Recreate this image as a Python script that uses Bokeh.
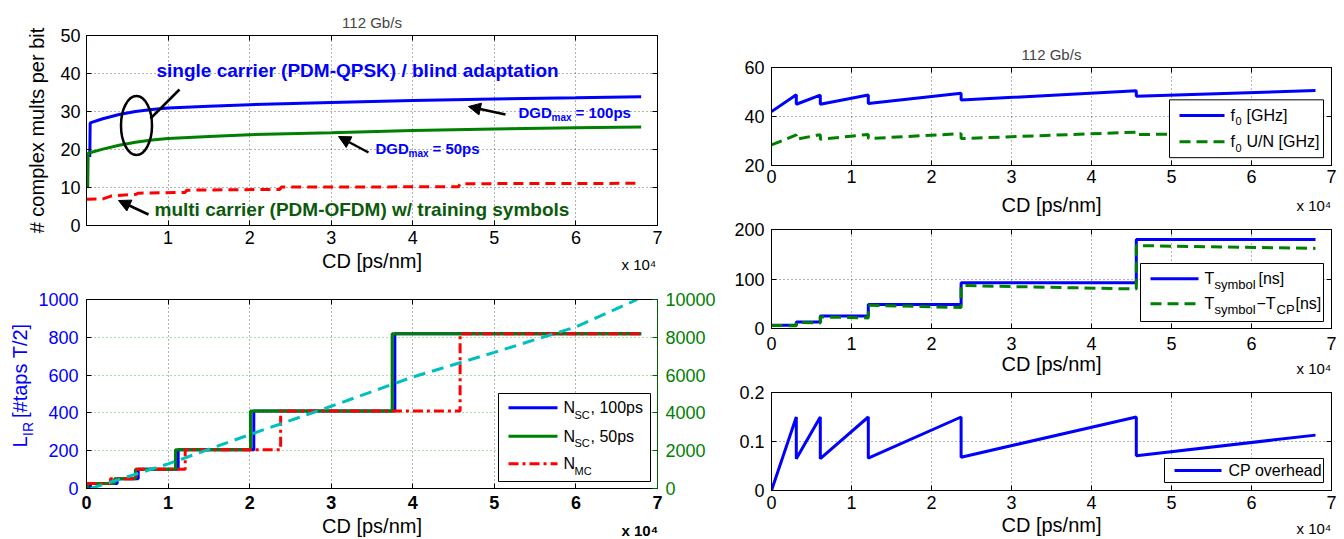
import math
from bokeh.plotting import figure
from bokeh.models import (Range1d, LinearAxis, FixedTicker, CustomJSTickFormatter,
                          Label, Arrow, NormalHead, BoxAnnotation)
from bokeh.core.properties import value
from bokeh.layouts import row, column
from bokeh.embed import file_html
from bokeh.resources import INLINE

FONT = "Liberation Sans"
BLUE = "#0000ff"
GREEN = "#008000"
RED = "#ff0000"
CYAN = "#00bfbf"
DKGREEN = "#0b5a0b"

# ---------------- data (CD in ps/nm) ----------------
# panel 1: complex multiplications per bit
sc100_cd = [400, 450, 2000, 4000, 6000, 8000, 10000, 15000, 20000, 30000, 40000, 50000, 60000, 68000]
sc100_mults = [18, 27, 28.1, 29.2, 30.0, 30.5, 30.9, 31.4, 31.8, 32.4, 32.9, 33.3, 33.6, 33.9]
sc50_cd = [150, 200, 2000, 4000, 6000, 8000, 10000, 15000, 20000, 30000, 40000, 50000, 60000, 68000]
sc50_mults = [10, 19, 20.1, 21.1, 21.9, 22.5, 22.9, 23.4, 23.9, 24.4, 25.0, 25.4, 25.7, 25.9]
mc_cd = [0, 2000, 3100, 6100, 6300, 12100, 12300, 23700, 23900, 45600, 45800, 68000]
mc_mults = [6.9, 7.0, 7.8, 8.2, 8.5, 8.7, 9.3, 9.5, 10.1, 10.2, 11.0, 11.1]

# panel 2: impulse response length / FFT sizes
nsc100_cd = [0, 490, 3760, 6340, 11240, 20510, 37800, 68000]
nsc100_taps = [0, 26, 51, 102, 205, 410, 819, 819]
nsc50_cd = [0, 160, 3430, 6000, 10910, 20100, 37470, 68000]
nsc50_taps = [0, 26, 51, 102, 205, 410, 819, 819]
nmc_cd = [0, 2940, 6100, 12100, 23800, 45800, 68000]
nmc_taps = [26, 51, 102, 205, 410, 819, 819]
lir_cd = [500, 10000, 20000, 30000, 40000, 50000, 60000, 67500]
lir_right = [0, 1300, 2850, 4350, 5900, 7200, 8550, 10000]

# panels 3-5: OFDM parameters
ofdm_cd = [0, 3100, 3100, 6100, 6100, 12100, 12100, 23700, 23700, 45600, 45600, 68000]
f0_ghz = [42.0, 48.9, 45.0, 48.7, 45.0, 48.8, 45.3, 49.5, 46.7, 50.5, 48.3, 50.6]
f0un_ghz = [28.4, 32.5, 30.7, 32.6, 30.7, 32.7, 31.0, 33.0, 31.0, 33.6, 32.6, 33.6]
tsym_cd = [0, 3100, 6100, 12100, 23700, 45600, 68000]
tsym_ns = [6.6, 13.2, 25.2, 48.5, 92.5, 180, 180]
tsym_cp_ns = [6.2, 5.6, 12.3, 11.1, 23.4, 21.3, 46.8, 42.5, 86.8, 79.8, 167.5, 161.8]
cp_overhead = [0, 0.15, 0.065, 0.15, 0.065, 0.15, 0.066, 0.15, 0.068, 0.15, 0.071, 0.113]

x_ticks_all = [0, 10000, 20000, 30000, 40000, 50000, 60000, 70000]
x_ticks_p1 = [10000, 20000, 30000, 40000, 50000, 60000, 70000]
XFMT = "return (tick/10000).toFixed(0);"
IFMT = "return tick.toFixed(0);"
EMPTY = "return '';"


def conv(L, R, T, B, xr, yr):
    def fx(X):
        return xr[0] + (X - L) / (R - L) * (xr[1] - xr[0])

    def fy(Y):
        return yr[0] + (B - Y) / (B - T) * (yr[1] - yr[0])
    return fx, fy


def make_fig(w, h, L, R, T, B, ox, oy, xr, yr):
    p = figure(width=w, height=h, x_range=Range1d(*xr), y_range=Range1d(*yr),
               output_backend="svg", toolbar_location=None,
               min_border_left=L - ox, min_border_right=ox + w - R,
               min_border_top=T - oy, min_border_bottom=oy + h - B)
    p.outline_line_color = "black"
    p.outline_line_width = 1
    p.outline_line_alpha = 1
    p.background_fill_color = "white"
    p.border_fill_color = "white"
    return p


def style_axis(ax, ticks, code, size="18px", color="black", bold=False, standoff=5):
    ax.ticker = FixedTicker(ticks=ticks)
    ax.formatter = CustomJSTickFormatter(code=code)
    ax.major_tick_in = 5
    ax.major_tick_out = 0
    ax.minor_tick_in = 0
    ax.minor_tick_out = 0
    ax.major_label_text_font = FONT
    ax.major_label_text_font_size = size
    ax.major_label_text_color = color
    ax.major_label_text_font_style = "bold" if bold else "normal"
    ax.major_label_standoff = standoff
    ax.axis_line_color = "black"
    ax.major_tick_line_color = "black"
    ax.axis_label_text_font = FONT
    ax.axis_label_text_font_style = "normal"
    ax.axis_label_text_font_size = "20px"
    ax.axis_label_text_color = "black"


def style_grid(p, xticks, yticks, ycolor="#000000", yalpha=0.6):
    p.xgrid.ticker = FixedTicker(ticks=xticks)
    p.ygrid.ticker = FixedTicker(ticks=yticks)
    p.xgrid.grid_line_color = "#000000"
    p.xgrid.grid_line_alpha = 0.6
    p.xgrid.grid_line_dash = "1 3"
    p.ygrid.grid_line_color = ycolor
    p.ygrid.grid_line_alpha = yalpha
    p.ygrid.grid_line_dash = "1 3"


def box_ticks(p, xticks, yticks, right=True):
    t = LinearAxis(ticker=FixedTicker(ticks=xticks), formatter=CustomJSTickFormatter(code=EMPTY),
                   major_tick_in=5, major_tick_out=0, minor_tick_in=0, minor_tick_out=0,
                   major_label_standoff=0, axis_line_color="black")
    p.add_layout(t, "above")
    if right:
        r = LinearAxis(ticker=FixedTicker(ticks=yticks), formatter=CustomJSTickFormatter(code=EMPTY),
                       major_tick_in=5, major_tick_out=0, minor_tick_in=0, minor_tick_out=0,
                       major_label_standoff=0, axis_line_color="black")
        p.add_layout(r, "right")


def txt(p, x, y, text, size, color="black", bold=False, align="left", baseline="middle", angle=0.0):
    # label inside the plotting frame
    p.add_layout(Label(x=x, y=y, text=text, text_font=FONT, text_font_size=f"{size}px",
                       text_color=color, text_font_style="bold" if bold else "normal",
                       text_align=align, text_baseline=baseline, angle=angle))


def otxt(p, x, y, text, size, color="black", bold=False, align="left", baseline="middle", angle=0.0):
    # text outside the plotting frame (annotation-level text glyph)
    p.text(x=[x], y=[y], text=[text], text_font=value(FONT), text_font_size=value(f"{size}px"),
           text_color=color, text_font_style="bold" if bold else "normal",
           text_align=align, text_baseline=baseline, angle=angle, level="annotation")


def set_title(p, text):
    p.title.text = text
    p.title.align = "center"
    p.title.text_font = FONT
    p.title.text_font_size = "15px"
    p.title.text_font_style = "normal"


def mlegend(p, fx, fy, box, entries):
    X0, Y0, X1, Y1 = box
    p.add_layout(BoxAnnotation(left=fx(X0), right=fx(X1), top=fy(Y0), bottom=fy(Y1),
                               fill_color="white", fill_alpha=1, line_color="black",
                               line_alpha=1, line_width=1))
    for (Yc, Xs, Xe, color, dash, pieces) in entries:
        p.add_layout(Arrow(start=None, end=None, x_start=fx(Xs), y_start=fy(Yc), x_end=fx(Xe),
                           y_end=fy(Yc), line_color=color, line_width=3, line_dash=dash))
        for (X, dY, t, size) in pieces:
            txt(p, fx(X), fy(Yc + dY), t, size)


# ================= Panel 1 =================
L1, R1, T1, B1 = 86, 657, 35, 225
p1 = make_fig(720, 276, L1, R1, T1, B1, 0, 0, (0, 70000), (0, 50))
fx1, fy1 = conv(L1, R1, T1, B1, (0, 70000), (0, 50))
set_title(p1, "112 Gb/s")
style_axis(p1.xaxis[0], x_ticks_p1, XFMT, standoff=5)
p1.xaxis[0].axis_label = "CD [ps/nm]"
p1.xaxis[0].axis_label_standoff = 3
style_axis(p1.yaxis[0], [0, 10, 20, 30, 40, 50], IFMT, standoff=6)
p1.yaxis[0].axis_label = "# complex mults per bit"
p1.yaxis[0].axis_label_standoff = 9
style_grid(p1, x_ticks_p1, [0, 10, 20, 30, 40, 50])
box_ticks(p1, x_ticks_p1, [0, 10, 20, 30, 40, 50])

p1.line(sc100_cd, sc100_mults, line_color=BLUE, line_width=3)
p1.line(sc50_cd, sc50_mults, line_color=GREEN, line_width=3)
p1.line(mc_cd, mc_mults, line_color=RED, line_width=3, line_dash="10 6")

txt(p1, fx1(156), fy1(70), "single carrier (PDM-QPSK) / blind adaptation", 19, BLUE, bold=True)
txt(p1, fx1(154), fy1(209), "multi carrier (PDM-OFDM) w/ training symbols", 19, DKGREEN, bold=True)
for X0, Yc, rest in [(518, 112, "= 100ps"), (375, 148, "= 50ps")]:
    txt(p1, fx1(X0), fy1(Yc), "DGD", 15, BLUE, bold=True)
    txt(p1, fx1(X0 + 33), fy1(Yc + 5), "max", 10, BLUE, bold=True)
    txt(p1, fx1(X0 + 57), fy1(Yc), rest, 15, BLUE, bold=True)
for (xs, ys, xe, ye) in [(505, 114, 468, 106), (368, 152, 338, 136), (148, 214, 118, 200)]:
    p1.add_layout(Arrow(end=NormalHead(size=12, fill_color="black", line_color="black"),
                        x_start=fx1(xs), y_start=fy1(ys), x_end=fx1(xe), y_end=fy1(ye),
                        line_color="black", line_width=2.5))
p1.ellipse(x=[fx1(136)], y=[fy1(125)], width=[fx1(167) - fx1(136)], height=[fy1(96) - fy1(155)],
           fill_alpha=0, line_color="black", line_width=2.5)
p1.segment(x0=[fx1(150)], y0=[fy1(118)], x1=[fx1(179)], y1=[fy1(89)], line_color="black", line_width=2.5)
otxt(p1, fx1(621), fy1(264), "x 10⁴", 15)

# ================= Panel 2 =================
L2, R2, T2, B2 = 86, 657, 299, 488
p2 = make_fig(720, 263, L2, R2, T2, B2, 0, 276, (0, 70000), (0, 1000))
fx2, fy2 = conv(L2, R2, T2, B2, (0, 70000), (0, 1000))
p2.extra_y_ranges = {"taps_r": Range1d(0, 10000)}
style_axis(p2.xaxis[0], x_ticks_all, XFMT, bold=True, standoff=7)
p2.xaxis[0].axis_label = "CD [ps/nm]"
p2.xaxis[0].axis_label_standoff = 3
style_axis(p2.yaxis[0], [0, 200, 400, 600, 800, 1000], IFMT, color=BLUE, standoff=8)
raxis = LinearAxis(y_range_name="taps_r")
style_axis(raxis, [0, 2000, 4000, 6000, 8000, 10000], IFMT, color=GREEN, standoff=8)
raxis.axis_line_color = "#006000"
raxis.major_tick_line_color = "#006000"
p2.add_layout(raxis, "right")
style_grid(p2, x_ticks_all, [0, 200, 400, 600, 800, 1000], ycolor="#33aa33", yalpha=0.8)
box_ticks(p2, x_ticks_all, None, right=False)

p2.step(nsc100_cd, nsc100_taps, mode="after", line_color=BLUE, line_width=3)
p2.step(nsc50_cd, nsc50_taps, mode="after", line_color=GREEN, line_width=3)
p2.step(nmc_cd, nmc_taps, mode="after", line_color=RED, line_width=3, line_dash="10 4 3 4")
p2.line(lir_cd, lir_right, y_range_name="taps_r", line_color=CYAN, line_width=3, line_dash="12 7")

mlegend(p2, fx2, fy2, (498, 393, 650, 481), [
    (407.3, 508, 557, BLUE, "solid", [(563, 0, "N", 16), (574, 7, "SC", 11), (590, 0, ", 100ps", 16)]),
    (435.7, 508, 557, GREEN, "solid", [(563, 0, "N", 16), (574, 7, "SC", 11), (590, 0, ", 50ps", 16)]),
    (463.3, 508, 557, RED, "10 4 3 4", [(563, 0, "N", 16), (574, 7, "MC", 11)]),
])
otxt(p2, fx2(19), fy2(447), "L", 20, BLUE, angle=math.pi / 2)
otxt(p2, fx2(27), fy2(435.5), "IR", 14, BLUE, angle=math.pi / 2)
otxt(p2, fx2(19), fy2(417.5), "[#taps T/2]", 20, BLUE, angle=math.pi / 2)
otxt(p2, fx2(621), fy2(530), "x 10⁴", 15, bold=True)

# ================= Panel 3 =================
L3, R3 = 771, 1331
T3, B3 = 67, 167
p3 = make_fig(624, 218, L3, R3, T3, B3, 720, 0, (0, 70000), (20, 60))
fx3, fy3 = conv(L3, R3, T3, B3, (0, 70000), (20, 60))
set_title(p3, "112 Gb/s")
style_axis(p3.xaxis[0], x_ticks_all, XFMT, standoff=4)
p3.xaxis[0].axis_label = "CD [ps/nm]"
p3.xaxis[0].axis_label_standoff = 8
style_axis(p3.yaxis[0], [20, 40, 60], IFMT, standoff=7)
style_grid(p3, x_ticks_all, [20, 40, 60])
box_ticks(p3, x_ticks_all, [20, 40, 60])
p3.line(ofdm_cd, f0_ghz, line_color=BLUE, line_width=3)
p3.line(ofdm_cd, f0un_ghz, line_color=GREEN, line_width=3, line_dash="11 6")
mlegend(p3, fx3, fy3, (1169, 100, 1323, 159), [
    (116.0, 1179, 1224, BLUE, "solid", [(1230, 0, "f", 16), (1235, 6, "0", 11), (1246, 0, "[GHz]", 16)]),
    (142.7, 1179, 1224, GREEN, "11 6", [(1230, 0, "f", 16), (1235, 6, "0", 11), (1246, 0, "U/N [GHz]", 16)]),
])
otxt(p3, fx3(1296), fy3(208), "x 10⁴", 15)

# ================= Panel 4 =================
T4, B4 = 229, 328
p4 = make_fig(624, 162, L3, R3, T4, B4, 720, 218, (0, 70000), (0, 200))
fx4, fy4 = conv(L3, R3, T4, B4, (0, 70000), (0, 200))
style_axis(p4.xaxis[0], x_ticks_all, XFMT, standoff=8)
p4.xaxis[0].axis_label = "CD [ps/nm]"
p4.xaxis[0].axis_label_standoff = 0
style_axis(p4.yaxis[0], [0, 100, 200], IFMT, standoff=7)
style_grid(p4, x_ticks_all, [0, 100, 200])
box_ticks(p4, x_ticks_all, [0, 100, 200])
p4.step(tsym_cd, tsym_ns, mode="after", line_color=BLUE, line_width=3)
p4.line(ofdm_cd, tsym_cp_ns, line_color=GREEN, line_width=3, line_dash="11 6")
mlegend(p4, fx4, fy4, (1140, 263, 1323, 321), [
    (278.3, 1150, 1198, BLUE, "solid", [(1204, 0, "T", 16), (1214, 6, "symbol", 13), (1258, 0, "[ns]", 16)]),
    (303.3, 1150, 1198, GREEN, "11 6", [(1204, 0, "T", 16), (1214, 6, "symbol", 13), (1256, 0, "−T", 16),
                                         (1276, 6, "CP", 13), (1295, 0, "[ns]", 16)]),
])
otxt(p4, fx4(1296), fy4(368), "x 10⁴", 15)

# ================= Panel 5 =================
T5, B5 = 392, 490
p5 = make_fig(624, 159, L3, R3, T5, B5, 720, 380, (0, 70000), (0, 0.2))
fx5, fy5 = conv(L3, R3, T5, B5, (0, 70000), (0, 0.2))
style_axis(p5.xaxis[0], x_ticks_all, XFMT, standoff=5)
p5.xaxis[0].axis_label = "CD [ps/nm]"
p5.xaxis[0].axis_label_standoff = 2
style_axis(p5.yaxis[0], [0, 0.1, 0.2], "return tick == 0 ? '0' : tick.toFixed(1);", standoff=7)
style_grid(p5, x_ticks_all, [0, 0.1, 0.2])
box_ticks(p5, x_ticks_all, [0, 0.1, 0.2])
p5.line(ofdm_cd, cp_overhead, line_color=BLUE, line_width=3)
mlegend(p5, fx5, fy5, (1164, 458, 1323, 482), [
    (470.0, 1174, 1221, BLUE, "solid", [(1228, 0, "CP overhead", 16)]),
])
otxt(p5, fx5(1296), fy5(528), "x 10⁴", 15)

layout = row(column(p1, p2), column(p3, p4, p5))
open("out.html", "w").write(file_html(layout, INLINE))
